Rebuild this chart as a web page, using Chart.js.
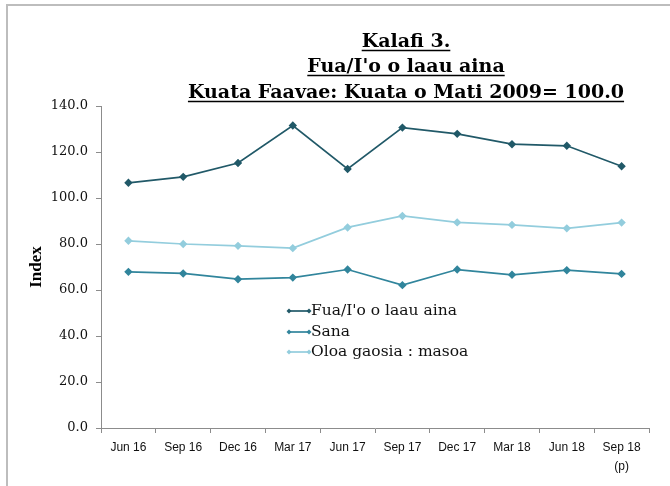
<!DOCTYPE html>
<html>
<head>
<meta charset="utf-8">
<script src="https://cdn.jsdelivr.net/npm/chart.js@4.4.0/dist/chart.umd.min.js"></script>
<style>
  html, body { margin: 0; padding: 0; background: #fff; }
  #wrap { width: 670px; height: 486px; }
</style>
</head>
<body>
<div id="wrap"><canvas id="chart" width="670" height="486"></canvas></div>
<script>
// chart data
const categories = ["Jun 16", "Sep 16", "Dec 16", "Mar 17", "Jun 17", "Sep 17", "Dec 17", "Mar 18", "Jun 18", ["Sep 18", "(p)"]];
const fuaValues = [106.6, 109.2, 115.2, 131.5, 112.6, 130.6, 127.9, 123.4, 122.7, 113.8];
const sanaValues = [67.9, 67.2, 64.7, 65.4, 68.9, 62.1, 68.9, 66.6, 68.6, 67.0];
const oloaValues = [81.4, 80.0, 79.2, 78.2, 87.2, 92.2, 89.4, 88.3, 86.8, 89.3];
const seriesNames = ["Fua/I'o o laau aina", "Sana", "Oloa gaosia : masoa"];
const titleLines = ["Kalafi 3.", "Fua/I'o o laau aina", "Kuata Faavae: Kuata o Mati 2009= 100.0"];
const yTicks = [0, 20, 40, 60, 80, 100, 120, 140];

const darkCol = "#215968";
const midCol = "#31859c";
const lightCol = "#93cddd";
const serif = "'DejaVu Serif', 'Liberation Serif', serif";

function makeSet(label, data, color) {
  return {
    label: label,
    data: data,
    borderColor: color,
    backgroundColor: color,
    borderWidth: 1.7,
    pointStyle: "rectRot",
    pointRadius: 3,
    pointHoverRadius: 3,
    tension: 0
  };
}

// underlined title, frame and in-plot legend
const extras = {
  id: "extras",
  afterDraw(chart) {
    const ctx = chart.ctx;
    ctx.save();
    // outer frame (top + left only)
    ctx.strokeStyle = "#bdbdbd";
    ctx.lineWidth = 2;
    ctx.beginPath();
    ctx.moveTo(7, 486);
    ctx.lineTo(7, 5);
    ctx.lineTo(670, 5);
    ctx.stroke();

    // title
    ctx.fillStyle = "#000";
    ctx.strokeStyle = "#000";
    ctx.font = "bold 19px 'DejaVu Serif', serif";
    ctx.textAlign = "center";
    ctx.textBaseline = "alphabetic";
    const cx = 406;
    const ys = [47, 72, 98];
    titleLines.forEach((t, i) => {
      ctx.fillText(t, cx, ys[i]);
      const w = ctx.measureText(t).width;
      ctx.lineWidth = 1.5;
      ctx.beginPath();
      ctx.moveTo(cx - w / 2, ys[i] + 3.5);
      ctx.lineTo(cx + w / 2, ys[i] + 3.5);
      ctx.stroke();
    });

    // legend
    ctx.font = "15.5px " + serif;
    ctx.textAlign = "left";
    ctx.textBaseline = "middle";
    const legY = [311, 332, 352];
    chart.data.datasets.forEach((ds, i) => {
      const y = legY[i];
      ctx.strokeStyle = ds.borderColor;
      ctx.fillStyle = ds.borderColor;
      ctx.lineWidth = 1.7;
      ctx.beginPath();
      ctx.moveTo(289, y);
      ctx.lineTo(309, y);
      ctx.stroke();
      [289, 309].forEach(px => {
        ctx.beginPath();
        ctx.moveTo(px, y - 2.5);
        ctx.lineTo(px + 2.5, y);
        ctx.lineTo(px, y + 2.5);
        ctx.lineTo(px - 2.5, y);
        ctx.closePath();
        ctx.fill();
      });
      ctx.fillStyle = "#111";
      ctx.fillText(ds.label, 311, y);
    });
    ctx.restore();
  }
};

new Chart(document.getElementById("chart"), {
  type: "line",
  data: {
    labels: categories,
    datasets: [
      makeSet(seriesNames[0], fuaValues, darkCol),
      makeSet(seriesNames[1], sanaValues, midCol),
      makeSet(seriesNames[2], oloaValues, lightCol)
    ]
  },
  options: {
    responsive: false,
    animation: false,
    layout: { padding: { left: 0, right: 21, top: 106, bottom: 0 } },
    plugins: {
      legend: { display: false },
      title: { display: false },
      tooltip: { enabled: false }
    },
    scales: {
      x: {
        offset: true,
        afterFit(scale) { scale.height = 58; },
        grid: {
          offset: true,
          drawOnChartArea: false,
          drawTicks: true,
          tickLength: 5,
          color: "#8c8c8c"
        },
        border: { color: "#8c8c8c", width: 1 },
        ticks: {
          color: "#111",
          padding: 5,
          maxRotation: 0,
          autoSkip: false,
          font: { family: "'Liberation Sans', Arial, sans-serif", size: 12, lineHeight: 1.6 }
        }
      },
      y: {
        min: 0,
        max: 140,
        afterFit(scale) { scale.width = 101; },
        afterBuildTicks(scale) { scale.ticks = yTicks.map(v => ({ value: v })); },
        grid: {
          drawOnChartArea: false,
          drawTicks: true,
          tickLength: 5,
          color: "#8c8c8c"
        },
        border: { color: "#8c8c8c", width: 1 },
        title: {
          display: true,
          text: "Index",
          color: "#000",
          padding: { top: 26, bottom: 0 },
          font: { family: "'Liberation Serif', serif", size: 17, weight: "bold" }
        },
        ticks: {
          color: "#111",
          padding: 8,
          callback: v => Number(v).toFixed(1),
          font: { family: serif, size: 13 }
        }
      }
    }
  },
  plugins: [extras]
});
</script>
</body>
</html>
